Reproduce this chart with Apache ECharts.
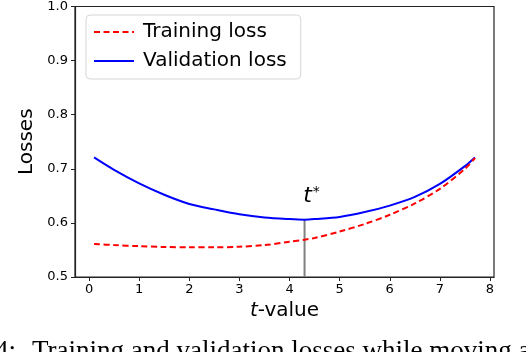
<!DOCTYPE html>
<html>
<head>
<meta charset="utf-8">
<script src="https://cdn.jsdelivr.net/npm/echarts@6/dist/echarts.min.js"></script>
<style>
  html, body { margin: 0; padding: 0; background: #fff; }
  #main { width: 526px; height: 352px; }
</style>
</head>
<body>
<div id="main"></div>
<script>
// values
var tValues = [0.1, 0.5, 1.0, 1.5, 2.0, 2.5, 3.0, 3.5, 4.0, 4.3, 4.5, 5.0, 5.5, 6.0, 6.5, 7.0, 7.5, 7.7];
var trainLoss = [0.561, 0.559, 0.557, 0.5555, 0.5548, 0.5548, 0.556, 0.559, 0.565, 0.569, 0.572, 0.584, 0.598, 0.615, 0.636, 0.663, 0.700, 0.720];
var validLoss = [0.721, 0.698, 0.673, 0.652, 0.635, 0.625, 0.616, 0.610, 0.607, 0.606, 0.607, 0.611, 0.620, 0.632, 0.648, 0.672, 0.705, 0.721];
var tStarX = [4.3, 4.3];
var tStarY = [0.5, 0.606];
var xTicks = [0, 1, 2, 3, 4, 5, 6, 7, 8];

function pairs(xs, ys) {
    return xs.map(function (x, i) { return [x, ys[i]]; });
}

var myChart = echarts.init(document.getElementById('main'));
var font = 'DejaVu Sans';

option = {
    animation: false,
    grid: {
        left: 75, right: 32, top: 5, bottom: 75,
        show: true,
        borderColor: '#222',
        borderWidth: 1.2
    },
    legend: {
        left: 86, top: 15,
        orient: 'vertical',
        padding: [7, 14, 8, 7],
        itemWidth: 40,
        itemHeight: 14,
        itemGap: 9,
        backgroundColor: 'rgba(255,255,255,0.8)',
        borderColor: '#d6d6d6',
        borderWidth: 1,
        borderRadius: 4,
        itemStyle: { opacity: 0 },
        textStyle: { fontFamily: font, fontSize: 20, color: '#000', lineHeight: 20, padding: [0, 0, 0, 4] },
        data: ['Training loss', 'Validation loss']
    },
    xAxis: {
        type: 'value',
        min: -0.28,
        max: 8.08,
        name: '{i|t}-value',
        nameLocation: 'middle',
        nameGap: 24,
        nameTextStyle: {
            fontFamily: font, fontSize: 20, color: '#000',
            rich: { i: { fontFamily: font, fontSize: 20, fontStyle: 'italic', color: '#000' } }
        },
        splitLine: { show: false },
        axisLine: { onZero: false, lineStyle: { color: '#222', width: 1.2 } },
        axisTick: { show: true, length: 4, customValues: xTicks, lineStyle: { color: '#222' } },
        axisLabel: { customValues: xTicks, margin: 6, fontFamily: font, fontSize: 13, color: '#000' }
    },
    yAxis: {
        type: 'value',
        min: 0.5,
        max: 1.0,
        interval: 0.1,
        name: 'Losses',
        nameLocation: 'middle',
        nameGap: 33,
        nameTextStyle: { fontFamily: font, fontSize: 20, color: '#000' },
        splitLine: { show: false },
        axisLine: { show: true, onZero: false, lineStyle: { color: '#222', width: 1.2 } },
        axisTick: { show: true, length: 4, lineStyle: { color: '#222' } },
        axisLabel: {
            margin: 7, fontFamily: font, fontSize: 13, color: '#000',
            formatter: function (v) { return v.toFixed(1); }
        }
    },
    graphic: [{
        type: 'text',
        left: -5,
        top: 338,
        style: {
            text: '4:',
            font: '27px "Liberation Serif"',
            fill: '#000'
        }
    }, {
        type: 'text',
        left: 32,
        top: 338,
        style: {
            text: 'Training and validation losses while moving along',
            font: '27px "Liberation Serif"',
            fill: '#000'
        }
    }],
    series: [
        {
            name: 't*',
            type: 'line',
            data: pairs(tStarX, tStarY),
            symbol: 'circle',
            symbolSize: 0.1,
            showSymbol: true,
            lineStyle: { color: '#808080', width: 2 },
            itemStyle: { color: '#808080' },
            z: 1,
            label: {
                show: true,
                position: 'top',
                distance: 12,
                offset: [7, 0],
                formatter: function (p) { return p.dataIndex === 1 ? '{t|t}{s|*}' : ''; },
                rich: {
                    t: { fontFamily: font, fontSize: 22, fontStyle: 'italic', color: '#000' },
                    s: { fontFamily: font, fontSize: 14, color: '#000', verticalAlign: 'top', padding: [0, 0, 8, 1] }
                }
            }
        },
        {
            name: 'Training loss',
            type: 'line',
            data: pairs(tValues, trainLoss),
            symbol: 'none',
            smooth: 0.3,
            lineStyle: { color: '#ff0000', width: 2, type: [6, 3.5] },
            itemStyle: { color: '#ff0000' },
            z: 3
        },
        {
            name: 'Validation loss',
            type: 'line',
            data: pairs(tValues, validLoss),
            symbol: 'none',
            smooth: 0.3,
            lineStyle: { color: '#0000ff', width: 2 },
            itemStyle: { color: '#0000ff' },
            z: 2
        }
    ]
};

myChart.setOption(option);
</script>
</body>
</html>
